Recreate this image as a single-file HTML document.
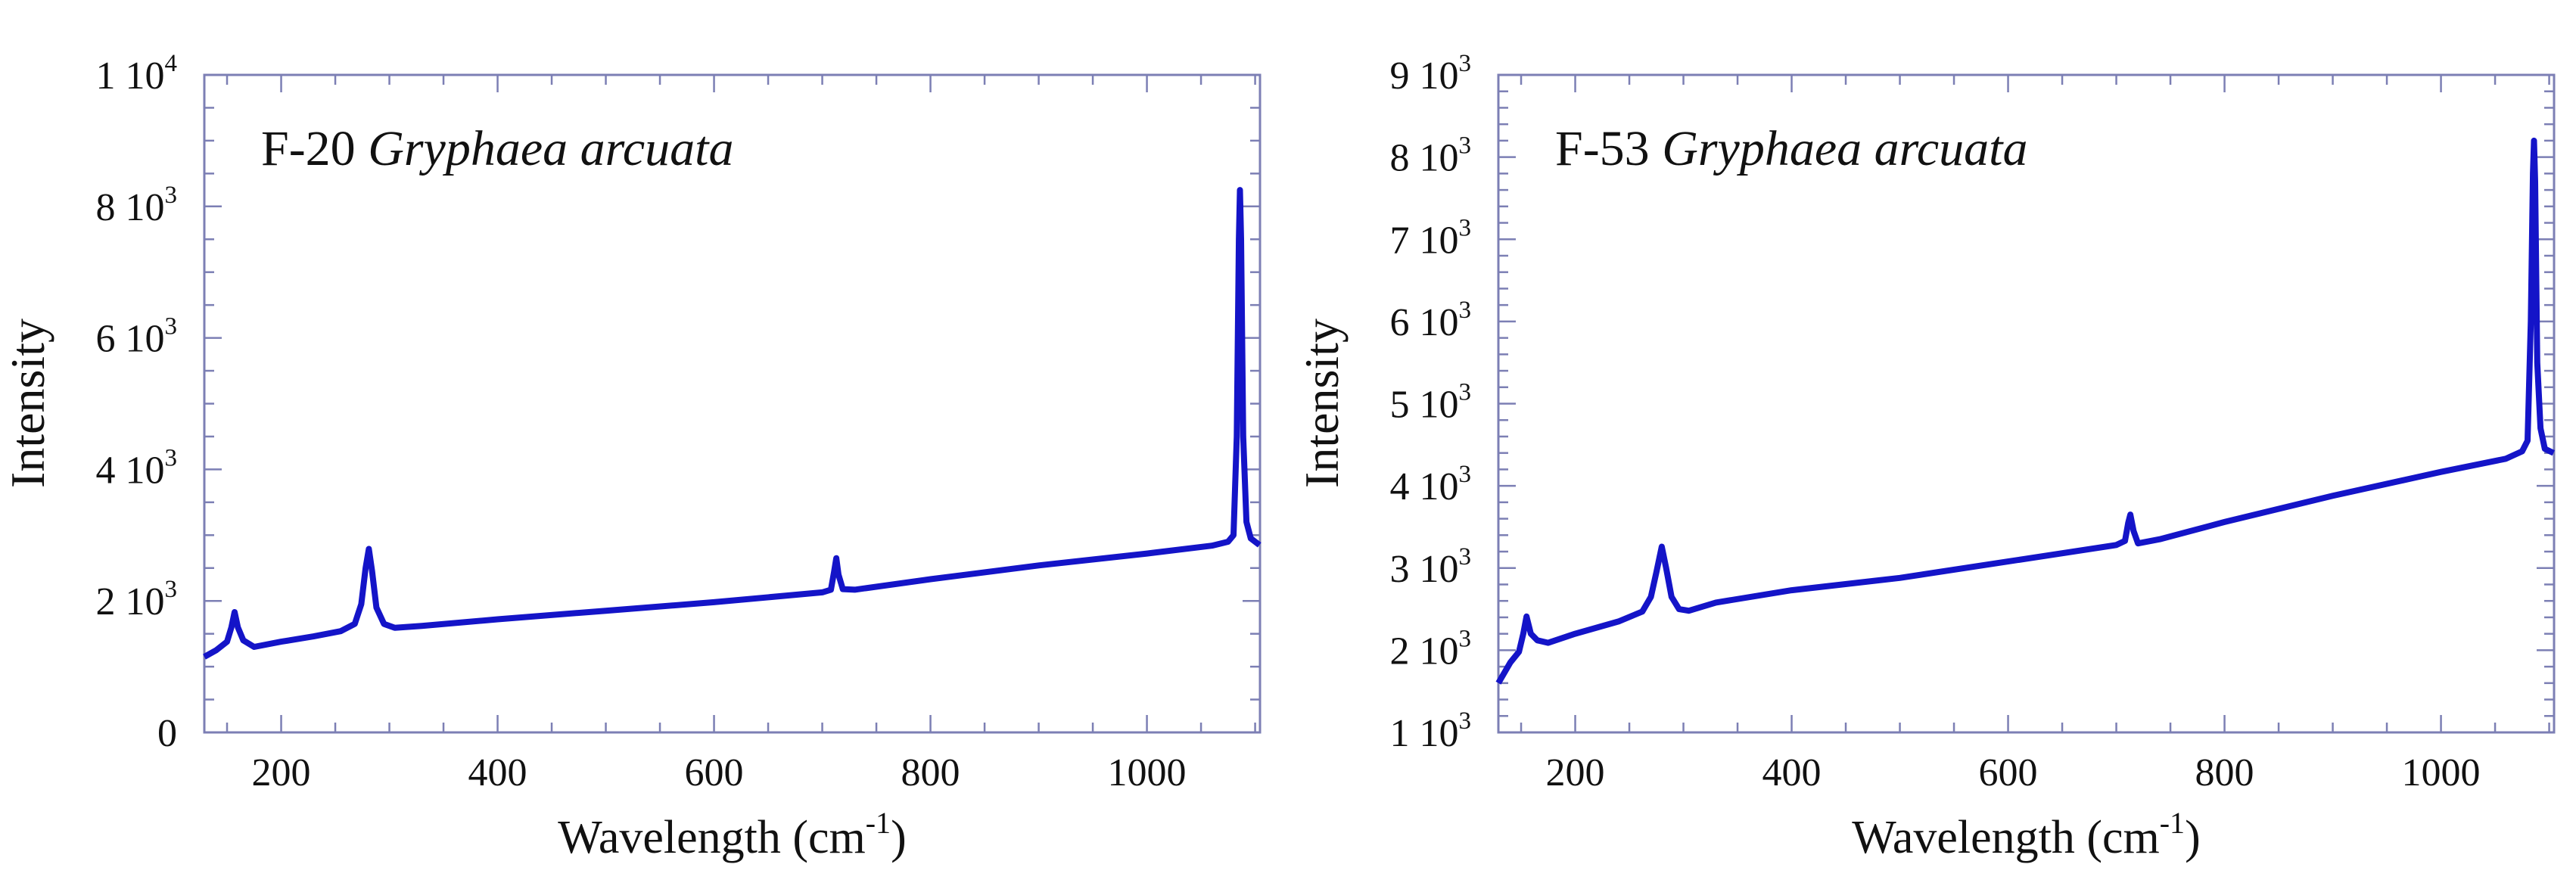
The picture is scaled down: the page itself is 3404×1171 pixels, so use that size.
<!DOCTYPE html>
<html><head><meta charset="utf-8"><style>
html,body{margin:0;padding:0;background:#fff;}
svg{display:block;}
text{font-family:"Liberation Serif",serif;fill:#111;}
</style></head><body>
<svg id="fig" width="3404" height="1171" viewBox="0 0 3404 1171" xmlns="http://www.w3.org/2000/svg">
<g id="p1"></g>
<g id="p2"></g>
</svg>
<script>
const leftWavenumbers=[129,140,150,154,157,160,165,175,200,230,255,268,274,278,281,284,288,295,305,330,400,500,600,700,708,711,713,715,719,730,800,900,1000,1060,1075,1080,1083,1085,1086,1087,1089,1092,1096,1104];
const leftIntensity=[1150,1250,1380,1600,1830,1600,1400,1300,1380,1460,1540,1650,1950,2500,2790,2450,1900,1650,1590,1620,1720,1850,1980,2130,2170,2450,2650,2400,2180,2170,2330,2540,2720,2840,2900,3000,4500,7500,8250,7500,4500,3200,2950,2850];
const rightWavenumbers=[129,140,148,152,155,159,165,175,200,240,262,270,275,280,284,289,296,305,330,400,500,600,700,708,711,713,716,720,740,800,900,1000,1060,1075,1080,1083,1085,1086,1087,1089,1092,1096,1104];
const rightIntensity=[1600,1850,1980,2200,2410,2200,2120,2090,2200,2350,2470,2650,2950,3260,3000,2650,2500,2480,2580,2730,2880,3080,3280,3330,3550,3650,3450,3300,3350,3560,3880,4170,4330,4420,4550,6000,7800,8200,7700,5500,4700,4450,4400];
const xTickValues=[200,400,600,800,1000];
const leftYTicks=[0,2,4,6,8,10];
const leftYTickLabels=["0","2 10|3","4 10|3","6 10|3","8 10|3","1 10|4"];
const rightYTicks=[1,2,3,4,5,6,7,8,9];
const rightYTickLabels=["1 10|3","2 10|3","3 10|3","4 10|3","5 10|3","6 10|3","7 10|3","8 10|3","9 10|3"];

const NS="http://www.w3.org/2000/svg";
function mk(parent,tag,attrs){const e=document.createElementNS(NS,tag);for(const k in attrs)e.setAttribute(k,attrs[k]);parent.appendChild(e);return e;}

function drawChart(g,cfg){
  const L=cfg.left,R=cfg.right,T=99,B=968;
  const xs=v=>L+(v-129)*(R-L)/(1104.5-129);
  const ys=v=>B-(v-cfg.ymin)*(B-T)/(cfg.ymax-cfg.ymin);
  const ax="#7c7fb4";
  const fr=mk(g,'rect',{x:L,y:T,width:R-L,height:B-T,fill:'none',stroke:ax,'stroke-width':3});
  
  
  for(let v=150;v<=1100;v+=50){
    const maj=v%200===0, len=maj?23:13, X=xs(v);
    const t1=mk(g,'line',{x1:X,x2:X,y1:B,y2:B-len,stroke:ax,'stroke-width':2.5});
    
    
    mk(g,'line',{x1:X,x2:X,y1:T,y2:T+len,stroke:ax,'stroke-width':2.5});
  }
  xTickValues.forEach(v=>{
    const t=mk(g,'text',{x:xs(v),y:1038,'font-size':52,'text-anchor':'middle'});
    t.textContent=v;
    
    
  });
  for(let v=cfg.ymin;v<=cfg.ymax+1e-6;v+=cfg.minor){
    const maj=Math.abs(v%cfg.majorEvery)<1e-6;
    const len=maj?23:13, Y=ys(v);
    const t1=mk(g,'line',{x1:L,x2:L+len,y1:Y,y2:Y,stroke:ax,'stroke-width':2.5});
    
    
    mk(g,'line',{x1:R,x2:R-len,y1:Y,y2:Y,stroke:ax,'stroke-width':2.5});
  }
  cfg.yt.forEach((v,i)=>{
    const parts=cfg.ytl[i].split('|');
    const t=mk(g,'text',{x:L-36,y:ys(v*1000)+18,'font-size':52,'text-anchor':'end'});
    
    
    t.appendChild(document.createTextNode(parts[0]));
    if(parts[1]){
      const s=document.createElementNS(NS,'tspan');
      s.setAttribute('dy','-23');s.setAttribute('font-size','33');
      s.textContent=parts[1];t.appendChild(s);
    }
  });
  let d='';
  cfg.wx.forEach((w,i)=>{d+=(i?'L':'M')+xs(w).toFixed(1)+','+ys(cfg.wy[i]).toFixed(1);});
  const p=mk(g,'path',{d:d,fill:'none',stroke:'#1414c8','stroke-width':8,'stroke-linejoin':'round'});
  
  
  const ti=mk(g,'text',{x:L+75,y:218,'font-size':66});
  
  
  ti.appendChild(document.createTextNode(cfg.title+' '));
  const it=document.createElementNS(NS,'tspan');it.setAttribute('font-style','italic');it.textContent='Gryphaea arcuata';ti.appendChild(it);
  const xt=mk(g,'text',{x:(L+R)/2,y:1127,'font-size':62,'text-anchor':'middle'});
  
  
  xt.appendChild(document.createTextNode('Wavelength (cm'));
  const sp=document.createElementNS(NS,'tspan');sp.setAttribute('dy','-26');sp.setAttribute('font-size','40');sp.textContent='-1';xt.appendChild(sp);
  const sp2=document.createElementNS(NS,'tspan');sp2.setAttribute('dy','26');sp2.textContent=')';xt.appendChild(sp2);
  const yt=mk(g,'text',{x:0,y:0,'font-size':64,'text-anchor':'middle',transform:`translate(${cfg.ytx},533) rotate(-90)`});
  yt.textContent='Intensity';
  
  
}
drawChart(document.getElementById('p1'),{left:270,right:1665,ymin:0,ymax:10000,minor:500,yt:leftYTicks,ytl:leftYTickLabels,wx:leftWavenumbers,wy:leftIntensity,title:'F-20',ytx:58,majorEvery:2000});
drawChart(document.getElementById('p2'),{left:1980,right:3375,ymin:1000,ymax:9000,minor:200,yt:rightYTicks,ytl:rightYTickLabels,wx:rightWavenumbers,wy:rightIntensity,title:'F-53',ytx:1768,majorEvery:1000});
</script>
</body></html>
